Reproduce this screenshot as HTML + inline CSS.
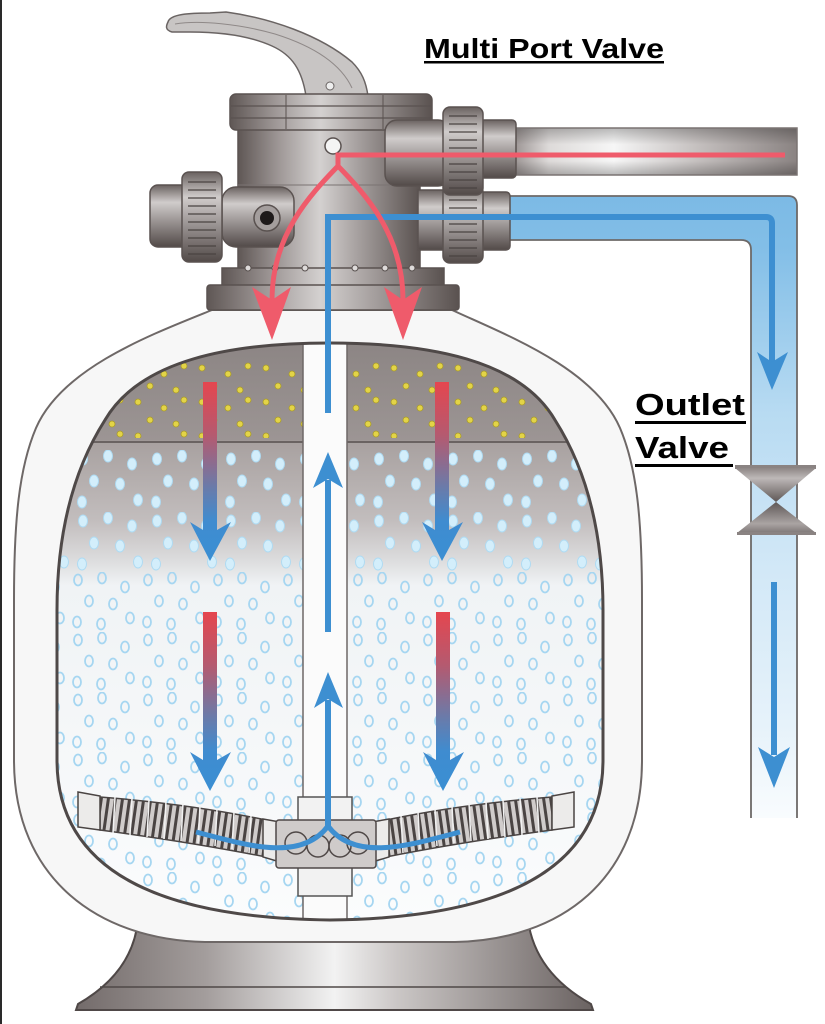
<!DOCTYPE html>
<html><head><meta charset="utf-8"><style>html,body{margin:0;padding:0;background:#fff}svg{display:block}</style></head>
<body>
<svg width="825" height="1024" viewBox="0 0 825 1024" xmlns="http://www.w3.org/2000/svg">
<defs>
<linearGradient id="gH" x1="0" y1="0" x2="1" y2="0">
 <stop offset="0" stop-color="#5f5755"/><stop offset="0.22" stop-color="#9d9695"/><stop offset="0.45" stop-color="#d4d1d0"/><stop offset="0.65" stop-color="#a8a2a1"/><stop offset="1" stop-color="#5a5250"/>
</linearGradient>
<linearGradient id="gV" x1="0" y1="0" x2="0" y2="1">
 <stop offset="0" stop-color="#6a6260"/><stop offset="0.28" stop-color="#d0cccb"/><stop offset="0.55" stop-color="#a09a99"/><stop offset="1" stop-color="#524a48"/>
</linearGradient>
<linearGradient id="gPipe" x1="515" y1="0" x2="797" y2="0" gradientUnits="userSpaceOnUse">
 <stop offset="0" stop-color="#9d9695"/><stop offset="0.12" stop-color="#dddad9"/><stop offset="0.35" stop-color="#f6f6f6"/><stop offset="0.65" stop-color="#c4bfbe"/><stop offset="1" stop-color="#8a8382"/>
</linearGradient>
<linearGradient id="gPipeV" x1="0" y1="0" x2="0" y2="1">
 <stop offset="0" stop-color="#000" stop-opacity="0.25"/><stop offset="0.35" stop-color="#000" stop-opacity="0"/><stop offset="0.7" stop-color="#000" stop-opacity="0"/><stop offset="1" stop-color="#000" stop-opacity="0.25"/>
</linearGradient>
<linearGradient id="gBlue" x1="0" y1="196" x2="0" y2="818" gradientUnits="userSpaceOnUse">
 <stop offset="0" stop-color="#7cbae5"/><stop offset="0.08" stop-color="#82bee7"/><stop offset="0.35" stop-color="#b8dbf2"/><stop offset="0.6" stop-color="#d2e8f7"/><stop offset="0.85" stop-color="#e6f2fa"/><stop offset="1" stop-color="#f9fcfe"/>
</linearGradient>
<linearGradient id="gBase" x1="76" y1="0" x2="593" y2="0" gradientUnits="userSpaceOnUse">
 <stop offset="0" stop-color="#736b6a"/><stop offset="0.25" stop-color="#a39d9c"/><stop offset="0.5" stop-color="#f2f2f2"/><stop offset="0.62" stop-color="#cbc7c6"/><stop offset="1" stop-color="#6a6261"/>
</linearGradient>
<linearGradient id="gCh" x1="0" y1="343" x2="0" y2="920" gradientUnits="userSpaceOnUse">
 <stop offset="0" stop-color="#8c8584"/><stop offset="0.168" stop-color="#9c9594"/><stop offset="0.172" stop-color="#a8a1a0"/><stop offset="0.307" stop-color="#c2bdbd"/><stop offset="0.376" stop-color="#dcdcdd"/><stop offset="0.42" stop-color="#f0f3f5"/><stop offset="1" stop-color="#fbfcfd"/>
</linearGradient>
<linearGradient id="rb" x1="0" y1="0" x2="0" y2="1">
 <stop offset="0" stop-color="#e5464f"/><stop offset="0.3" stop-color="#b45a70"/><stop offset="0.58" stop-color="#6c7aa8"/><stop offset="0.78" stop-color="#3f8cd0"/><stop offset="1" stop-color="#3a8fd3"/>
</linearGradient>
<linearGradient id="gBow1" x1="0" y1="0" x2="0" y2="1">
 <stop offset="0" stop-color="#8d8685"/><stop offset="0.3" stop-color="#bdb8b7"/><stop offset="1" stop-color="#5e5756"/>
</linearGradient>
<linearGradient id="gBow2" x1="0" y1="0" x2="0" y2="1">
 <stop offset="0" stop-color="#5e5756"/><stop offset="0.7" stop-color="#aaa4a3"/><stop offset="1" stop-color="#7f7877"/>
</linearGradient>
<pattern id="py" width="64" height="34" patternUnits="userSpaceOnUse" x="0" y="362">
 <g fill="#e3d447" stroke="#a99b2a" stroke-width="0.8">
  <circle cx="10" cy="6" r="3"/><circle cx="36" cy="12" r="3"/><circle cx="56" cy="4" r="3"/><circle cx="22" cy="24" r="3"/><circle cx="48" cy="28" r="3"/>
 </g>
</pattern>
<pattern id="pf" width="74" height="62" patternUnits="userSpaceOnUse" x="0" y="450">
 <g fill="#d3eefb" stroke="#aedbf3" stroke-width="1">
  <ellipse cx="9" cy="9" rx="4.5" ry="6"/><ellipse cx="34" cy="6" rx="4.5" ry="6"/><ellipse cx="58" cy="14" rx="4.5" ry="6"/><ellipse cx="20" cy="31" rx="4.5" ry="6"/><ellipse cx="46" cy="34" rx="4.5" ry="6"/><ellipse cx="8" cy="52" rx="4.5" ry="6"/><ellipse cx="64" cy="50" rx="4.5" ry="6"/>
 </g>
</pattern>
<pattern id="pr" width="70" height="60" patternUnits="userSpaceOnUse" x="0" y="572">
 <g fill="none" stroke="#a6d6f1" stroke-width="1.8">
  <ellipse cx="8" cy="8" rx="4" ry="5.5"/><ellipse cx="32" cy="6" rx="4" ry="5.5"/><ellipse cx="55" cy="15" rx="4" ry="5.5"/><ellipse cx="19" cy="29" rx="4" ry="5.5"/><ellipse cx="43" cy="32" rx="4" ry="5.5"/><ellipse cx="7" cy="50" rx="4" ry="5.5"/><ellipse cx="31" cy="52" rx="4" ry="5.5"/><ellipse cx="60" cy="46" rx="4" ry="5.5"/>
 </g>
</pattern>
<pattern id="coil" width="7" height="10" patternUnits="userSpaceOnUse" patternTransform="rotate(8)">
 <rect width="7" height="10" fill="#d0cccb"/><rect width="3" height="10" fill="#4a4443"/>
</pattern>
<clipPath id="cc"><path d="M330,343 C230,343 140,360 105,420 C70,475 57,540 57,610 L57,760 C57,860 140,918 330,920 C520,918 603,860 603,760 L603,610 C603,540 590,475 555,420 C520,360 430,343 330,343 Z"/></clipPath>
<g id="lat">
 <path d="M100,797 Q190,804 266,820 L266,857 Q190,842 100,830 Z" fill="url(#coil)" stroke="#4a4443" stroke-width="1.5"/>
 <g stroke="#f2f2f2" stroke-width="1.5">
  <line x1="115" y1="797" x2="113" y2="833"/><line x1="132" y1="798" x2="130" y2="835"/><line x1="149" y1="800" x2="147" y2="837"/><line x1="166" y1="801" x2="164" y2="839"/><line x1="183" y1="803" x2="181" y2="841"/><line x1="200" y1="806" x2="198" y2="843"/><line x1="217" y1="809" x2="215" y2="846"/><line x1="234" y1="812" x2="232" y2="849"/><line x1="251" y1="816" x2="249" y2="853"/>
 </g>
 <path d="M78,792 L100,796 L100,830 L78,827 Z" fill="#ecebea" stroke="#4a4443" stroke-width="1.5"/>
 <path d="M263,819 L280,822 L280,862 L263,857 Z" fill="#ecebea" stroke="#4a4443" stroke-width="1.5"/>
</g>
</defs>

<rect width="825" height="1024" fill="#fff"/>
<rect x="0" y="0" width="2" height="1024" fill="#2a2a2a"/>

<!-- base -->
<path d="M138,920 C135,950 120,980 78,1004 L76,1010 L593,1010 L591,1004 C548,980 532,950 528,920 Z" fill="url(#gBase)" stroke="#4f4847" stroke-width="2"/>
<line x1="100" y1="987" x2="566" y2="987" stroke="#4f4847" stroke-width="1.5"/>

<!-- outer shell -->
<path d="M212,310 C150,335 62,368 36,428 C19,468 14,520 14,600 L14,760 C14,880 100,940 205,942 L455,942 C560,940 642,880 642,760 L642,600 C642,520 637,468 620,428 C594,368 506,335 452,310 Z" fill="#f7f7f7" stroke="#6e6867" stroke-width="2"/>

<!-- inner chamber -->
<path d="M330,343 C230,343 140,360 105,420 C70,475 57,540 57,610 L57,760 C57,860 140,918 330,920 C520,918 603,860 603,760 L603,610 C603,540 590,475 555,420 C520,360 430,343 330,343 Z" fill="url(#gCh)"/>
<g clip-path="url(#cc)">
 <rect x="50" y="362" width="560" height="76" fill="url(#py)"/>
 <line x1="50" y1="442" x2="610" y2="442" stroke="#6a6362" stroke-width="2"/>
 <rect x="50" y="450" width="560" height="122" fill="url(#pf)"/>
 <rect x="50" y="572" width="560" height="346" fill="url(#pr)"/>
</g>

<!-- center tube -->
<rect x="303" y="344" width="44" height="575" fill="#fbfbfb"/>
<line x1="303" y1="344" x2="303" y2="920" stroke="#6e6867" stroke-width="1.5"/>
<line x1="347" y1="344" x2="347" y2="920" stroke="#6e6867" stroke-width="1.5"/>
<rect x="298" y="797" width="54" height="25" fill="#f2f2f2" stroke="#555" stroke-width="1.5"/>
<rect x="298" y="866" width="54" height="30" fill="#f2f2f2" stroke="#555" stroke-width="1.5"/>

<!-- laterals -->
<use href="#lat"/>
<use href="#lat" transform="translate(652,0) scale(-1,1)"/>
<!-- hub -->
<rect x="276" y="820" width="100" height="48" rx="3" fill="#cfcbca" stroke="#4f4847" stroke-width="1.5"/>
<g fill="none" stroke="#4f4847" stroke-width="1.5">
 <circle cx="296" cy="843" r="11"/><circle cx="318" cy="846" r="11"/><circle cx="340" cy="846" r="11"/><circle cx="358" cy="843" r="11"/>
</g>

<!-- gradient arrows -->
<path d="M203,382 H217 V530 L231,522 L210,561 L190,522 L203,530 Z" fill="url(#rb)"/>
<path d="M435,382 H449 V530 L463,522 L442,561 L422,522 L435,530 Z" fill="url(#rb)"/>
<path d="M203,612 H217 V760 L231,752 L210,791 L190,752 L203,760 Z" fill="url(#rb)"/>
<path d="M436,612 H450 V760 L464,752 L443,791 L423,752 L436,760 Z" fill="url(#rb)"/>

<!-- center blue arrows -->
<g stroke="#3d8fd1" fill="none" stroke-linecap="butt">
 <line x1="328" y1="480" x2="328" y2="632" stroke-width="6"/>
 <line x1="328" y1="700" x2="328" y2="828" stroke-width="6"/>
 <path d="M196,832 C240,843 300,864 328,826" stroke-width="5"/>
 <path d="M328,826 C356,864 416,843 460,832" stroke-width="5"/>
</g>
<path d="M313,488 L328,479 L343,488 L328,452 Z" fill="#3d8fd1"/>
<path d="M314,708 L328,699 L343,708 L328,672 Z" fill="#3d8fd1"/>

<!-- chamber outline -->
<path d="M330,343 C230,343 140,360 105,420 C70,475 57,540 57,610 L57,760 C57,860 140,918 330,920 C520,918 603,860 603,760 L603,610 C603,540 590,475 555,420 C520,360 430,343 330,343 Z" fill="none" stroke="#4f4948" stroke-width="3"/>

<!-- grey pipe -->
<rect x="515" y="128" width="282" height="47" fill="url(#gPipe)"/>
<rect x="515" y="128" width="282" height="47" fill="url(#gPipeV)" stroke="#7a7372" stroke-width="1.5"/>

<!-- blue pipe -->
<path d="M508,196 H788 Q797,196 797,205 V818 H751 V250 Q751,240 741,240 H508 Z" fill="url(#gBlue)"/>
<path d="M508,196 H788 Q797,196 797,205 V818 M751,818 V250 Q751,240 741,240 H508" fill="none" stroke="#6d6968" stroke-width="1.8"/>

<!-- outlet valve bowtie -->
<rect x="735" y="465" width="81" height="4" fill="#8a8382"/>
<path d="M735,468 H816 L776,502 Z" fill="url(#gBow1)"/>
<path d="M776,502 L816,533 H737 Z" fill="url(#gBow2)"/>
<rect x="737" y="532" width="79" height="3" fill="#8a8382"/>

<!-- valve body -->
<rect x="238" y="126" width="182" height="150" fill="url(#gH)" stroke="#5a5250" stroke-width="1.5"/>
<line x1="238" y1="185" x2="420" y2="185" stroke="#7a7372" stroke-width="1"/>
<!-- handle -->
<path d="M168,22 C170,14 190,13 210,13 L226,12 C270,18 320,35 352,62 C362,72 366,82 368,96 L306,96 C302,70 292,55 272,46 C250,36 220,32 190,32 L172,32 C165,30 166,26 168,22 Z" fill="#c8c5c4" stroke="#6a6463" stroke-width="1.5"/>
<path d="M175,24 C200,20 240,24 275,34 C310,45 340,62 352,88" fill="none" stroke="#8f8988" stroke-width="1"/>
<circle cx="330" cy="86" r="4" fill="#eee" stroke="#6a6463" stroke-width="1"/>
<!-- top cap -->
<rect x="230" y="94" width="202" height="36" rx="6" fill="url(#gH)" stroke="#5a5250" stroke-width="1.5"/>
<line x1="231" y1="106" x2="431" y2="106" stroke="#5a5250" stroke-width="1.2"/>
<line x1="231" y1="118" x2="431" y2="118" stroke="#5a5250" stroke-width="1.2"/>
<line x1="286" y1="95" x2="286" y2="129" stroke="#5a5250" stroke-width="1"/>
<line x1="383" y1="95" x2="383" y2="129" stroke="#5a5250" stroke-width="1"/>
<!-- hole -->
<circle cx="333" cy="146" r="8" fill="#f4f4f4" stroke="#5a5250" stroke-width="1.5"/>

<!-- flange -->
<rect x="222" y="268" width="222" height="18" fill="url(#gH)" stroke="#5a5250" stroke-width="1.5"/>
<rect x="207" y="285" width="252" height="25" rx="3" fill="url(#gH)" stroke="#5a5250" stroke-width="1.5"/>
<g fill="#dedbda" stroke="#5a5250" stroke-width="1">
 <circle cx="248" cy="268" r="3"/><circle cx="275" cy="268" r="3"/><circle cx="305" cy="268" r="3"/><circle cx="355" cy="268" r="3"/><circle cx="385" cy="268" r="3"/><circle cx="412" cy="268" r="3"/>
</g>

<!-- left port -->
<rect x="150" y="185" width="40" height="62" rx="8" fill="url(#gV)" stroke="#5a5250" stroke-width="1.5"/>
<rect x="222" y="187" width="72" height="60" rx="14" fill="url(#gV)" stroke="#5a5250" stroke-width="1.5"/>
<rect x="182" y="172" width="40" height="90" rx="7" fill="url(#gV)" stroke="#5a5250" stroke-width="1.5"/>
<g stroke="#4a4342" stroke-width="1.3">
 <line x1="188" y1="182" x2="216" y2="182"/><line x1="188" y1="190" x2="216" y2="190"/><line x1="188" y1="198" x2="216" y2="198"/><line x1="188" y1="206" x2="216" y2="206"/><line x1="188" y1="214" x2="216" y2="214"/><line x1="188" y1="222" x2="216" y2="222"/><line x1="188" y1="230" x2="216" y2="230"/><line x1="188" y1="238" x2="216" y2="238"/><line x1="188" y1="246" x2="216" y2="246"/><line x1="188" y1="254" x2="216" y2="254"/>
</g>
<circle cx="267" cy="218" r="13" fill="#a49e9d" stroke="#5a5250" stroke-width="1.5"/>
<circle cx="267" cy="218" r="7" fill="#1e1a1a"/>

<!-- right lower port -->
<rect x="418" y="190" width="30" height="60" fill="url(#gV)" stroke="#5a5250" stroke-width="1.5"/>
<rect x="480" y="192" width="30" height="58" rx="4" fill="url(#gV)" stroke="#5a5250" stroke-width="1.5"/>
<rect x="443" y="185" width="40" height="78" rx="7" fill="url(#gV)" stroke="#5a5250" stroke-width="1.5"/>
<g stroke="#4a4342" stroke-width="1.3">
 <line x1="449" y1="200" x2="477" y2="200"/><line x1="449" y1="208" x2="477" y2="208"/><line x1="449" y1="216" x2="477" y2="216"/><line x1="449" y1="224" x2="477" y2="224"/><line x1="449" y1="232" x2="477" y2="232"/><line x1="449" y1="240" x2="477" y2="240"/><line x1="449" y1="248" x2="477" y2="248"/><line x1="449" y1="256" x2="477" y2="256"/>
</g>
<!-- right upper port -->
<rect x="385" y="120" width="65" height="66" rx="12" fill="url(#gV)" stroke="#5a5250" stroke-width="1.5"/>
<rect x="480" y="120" width="36" height="58" rx="4" fill="url(#gV)" stroke="#5a5250" stroke-width="1.5"/>
<rect x="443" y="107" width="40" height="88" rx="7" fill="url(#gV)" stroke="#5a5250" stroke-width="1.5"/>
<g stroke="#4a4342" stroke-width="1.3">
 <line x1="449" y1="116" x2="477" y2="116"/><line x1="449" y1="124" x2="477" y2="124"/><line x1="449" y1="132" x2="477" y2="132"/><line x1="449" y1="140" x2="477" y2="140"/><line x1="449" y1="148" x2="477" y2="148"/><line x1="449" y1="156" x2="477" y2="156"/><line x1="449" y1="164" x2="477" y2="164"/><line x1="449" y1="172" x2="477" y2="172"/><line x1="449" y1="180" x2="477" y2="180"/><line x1="449" y1="188" x2="477" y2="188"/>
</g>

<!-- blue flow line -->
<path d="M328,413 V217 H766 Q772,217 772,223 V362" fill="none" stroke="#3d8fd1" stroke-width="6"/>
<path d="M757,352 L772,362 L788,352 L772,390 Z" fill="#3d8fd1"/>
<line x1="774" y1="582" x2="774" y2="755" stroke="#3d8fd1" stroke-width="6"/>
<path d="M758,747 L774,757 L790,747 L774,788 Z" fill="#3d8fd1"/>

<!-- red flow -->
<g fill="none" stroke="#ef5b6b" stroke-width="5">
 <path d="M785,155 H338 V166"/>
 <path d="M338,166 C310,195 272,235 272,300"/>
 <path d="M338,166 C366,195 403,235 403,300"/>
</g>
<path d="M252,287 L272,300 L291,287 L272,340 Z" fill="#ef5b6b"/>
<path d="M384,287 L403,300 L422,287 L403,340 Z" fill="#ef5b6b"/>

<!-- labels -->
<g font-family="'Liberation Sans', sans-serif" font-weight="bold" fill="#000">
 <text x="424" y="58" font-size="28" textLength="240" lengthAdjust="spacingAndGlyphs">Multi Port Valve</text>
 <text x="635" y="415" font-size="31" textLength="110" lengthAdjust="spacingAndGlyphs">Outlet</text>
 <text x="635" y="458" font-size="31" textLength="94" lengthAdjust="spacingAndGlyphs">Valve</text>
</g>
<rect x="424" y="61" width="240" height="2.5" fill="#000"/>
<rect x="635" y="421" width="111" height="3" fill="#000"/>
<rect x="635" y="464" width="98" height="3" fill="#000"/>
</svg>
</body></html>
